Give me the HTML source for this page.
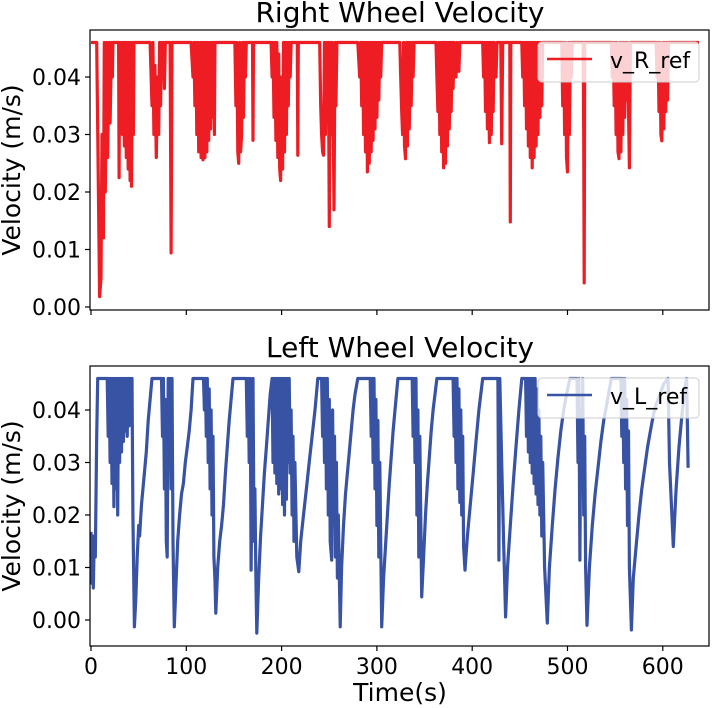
<!DOCTYPE html>
<html><head><meta charset="utf-8"><style>
html,body{margin:0;padding:0;background:#fff}
svg{display:block;font-family:"DejaVu Sans","Liberation Sans",sans-serif}
</style></head><body>
<svg id="chart" width="712" height="708" viewBox="0 0 712 708" xmlns="http://www.w3.org/2000/svg"></svg>
<script>
const xTicks=[0,100,200,300,400,500,600];
const yTicks=["0.00","0.01","0.02","0.03","0.04"];
const rightT=[0,6,7.5,9,10.5,11.5,13,14,15,16.5,17.5,19,20,21.5,22.5,23,29,29.5,30,31,32,33,34,35,36,37,38,39,40,41,42,42.5,43.5,44.5,45,62,64,65,66,67,68.5,70,71,72,73,74,75,76,77,78,83,84,85,105,107,108,109,110,111,112,113,114.5,115.5,116.5,117.5,118.5,119.5,120.5,121.5,122.5,123.5,124.5,125.5,126.5,127.5,128.5,129.5,130,151,152,153,154,155,156,157,158,159,160,161,162,163,169.5,170,170.5,189,190,191,192,193,194,195,196,197,198,199,200,201,202,203,204,205,206,207,208,209,210,216.5,217,217.5,240,241,242,243,244,245,246,247,248,249,250,251,252,253,254,255,256,257,258,280,282,283,284,285,286,287,288,289,290,291,292,293,294,295,296,297,298,299,300,301,302,303,304,305,324,325,326,327,328,329,330,331,332,333,334,335,336,337,338,339,362,363,364,365,366,367,368,369,370,371,372,373,374,375,376,377,378,379,380,381,383,384,386,387,411,412,413,414,415,416,417,418,419,420,421,422,423,425,426,430,431,432,439.5,440,440.5,452,453,454,455,456,457,458,459,460,461,462,463,464,465,466,467,468,469,470,471,472,473,474,494,495,496,497,498,499,500,501,502,503,504,505,516.5,517,517.5,518,546,547,548,549,550,551,552,553,554,555,556,557,558,559,560,561,562,563,565,566,593,594,595,596,597,598,599,600,601,602,603,604,605,606,638];
const rightV=[.046,.046,.025,.0018,.005,.03,.012,.046,.02,.046,.026,.046,.032,.046,.04,.046,.046,.0225,.046,.034,.046,.03,.046,.028,.046,.026,.046,.024,.046,.022,.046,.021,.046,.03,.046,.046,.035,.046,.03,.042,.026,.04,.03,.046,.035,.046,.04,.046,.038,.046,.046,.0094,.046,.046,.04,.046,.035,.046,.03,.046,.027,.046,.026,.046,.0256,.046,.026,.046,.027,.046,.029,.046,.031,.046,.033,.046,.03,.046,.046,.035,.046,.027,.025,.046,.027,.03,.046,.033,.046,.04,.046,.046,.029,.046,.046,.04,.046,.033,.046,.029,.046,.026,.044,.024,.022,.04,.024,.046,.027,.046,.03,.046,.035,.046,.04,.046,.046,.0264,.046,.046,.035,.03,.027,.0264,.046,.03,.046,.032,.046,.014,.046,.03,.046,.035,.0169,.046,.035,.046,.046,.04,.046,.035,.046,.03,.046,.027,.046,.0235,.046,.025,.046,.027,.046,.029,.046,.031,.046,.033,.046,.036,.046,.04,.046,.046,.04,.034,.03,.046,.028,.0258,.046,.028,.046,.031,.046,.035,.046,.04,.046,.046,.04,.034,.046,.03,.046,.027,.046,.0242,.046,.025,.046,.028,.046,.031,.046,.034,.046,.038,.046,.04,.046,.041,.046,.046,.04,.046,.034,.046,.031,.046,.0286,.046,.03,.046,.034,.046,.04,.046,.046,.0284,.046,.046,.0148,.046,.046,.04,.046,.035,.046,.031,.046,.028,.046,.026,.046,.0242,.046,.026,.046,.028,.046,.03,.046,.033,.046,.035,.046,.046,.035,.046,.03,.046,.026,.0235,.046,.03,.046,.04,.046,.046,.03,.0042,.046,.046,.04,.046,.035,.046,.03,.046,.027,.0258,.046,.027,.046,.03,.046,.033,.046,.036,.046,.0242,.046,.046,.04,.046,.034,.046,.03,.0289,.046,.031,.046,.034,.046,.036,.046,.046];
const leftT=[0,1,1.5,2.4,3.5,4.5,6,7,17,18,19,20,21,22,23,24,25,26,27,28,29,30,31,32,33,34,35,36,37,38,39,40,41,42,43,44,45.5,47,48.5,50,51,53,56,58,60,62,64,74,75,76,77,78,79,80,81,82,83,84,85,86,87.4,89,91,93,95,97,99,101,103,105,107,118,119,120,121,122,123,124,125,126,127,128,129,130,131,133,135,137,139,141,143,145,147,149,163,164,165,166,167,168,169,170,171,172,173,174,176,178,180,182,184,186,188,190,191,192,193,194,195,196,197,198,199,200,201,202,203,204,205,206,207,208,209,210,211,212,213,214,216,218,220,223,226,229,232,235,238,242,243,244,245,246,247,248,249,250,251,252.6,253.5,254.5,255.5,256.5,257.5,258.5,259.5,261.5,263,265,267,269,271,273,275,277,280,293,294,295,296,297,298,299,300,301,302,303,305,307,309,311,313,315,317,319,322,337,338,339,340,341,342,343,344,345,347,349,351,353,355,357,359,361,363,380,381,382,383,384,385,386,387,388,389,390,391,392.4,395,398,401,404,407,411,427,428,429,431,433,435,437,440,443,446,449,452,456,457,458,459,460,461,462,463,464,465,466,467,468,469,470,471,472,473,474,476,478.8,481,484,487,490,493,496,499,502.6,510,511,512,513,514,515,516,517,518,519,520.5,523,526,529,532,535,538,541,543,546,556,557,558,559,560,561,562,563,564,565,567,569,572,575,578,581,584,587,590,593,597,601,605.5,607,611,614,617,620,623,625,626,626.5];
const leftV=[.0168,.007,.016,.0061,.016,.012,.035,.046,.046,.035,.046,.03,.046,.026,.046,.0216,.046,.025,.046,.02,.046,.03,.046,.032,.046,.034,.046,.036,.046,.035,.046,.037,.046,.04,.046,.02,-.0013,.004,.012,.018,.016,.022,.028,.032,.038,.042,.046,.046,.035,.046,.025,.042,.015,.012,.046,.03,.046,.025,.046,.015,-.0013,.006,.015,.02,.024,.026,.03,.033,.036,.04,.046,.046,.04,.046,.035,.046,.03,.044,.025,.04,.02,.035,.012,.008,.0013,.01,.015,.018,.022,.028,.033,.038,.042,.046,.046,.035,.046,.03,.046,.0095,.03,.046,.015,.025,.008,-.0025,.008,.016,.022,.028,.033,.038,.043,.046,.03,.046,.028,.046,.026,.046,.024,.046,.025,.046,.022,.046,.02,.046,.023,.046,.03,.046,.028,.04,.02,.035,.015,.03,.012,.0092,.015,.02,.025,.03,.035,.04,.046,.046,.035,.046,.03,.046,.025,.046,.02,.042,.015,.0114,.04,.018,.035,.012,.03,.008,.02,-.0013,.01,.018,.024,.028,.032,.036,.04,.043,.046,.046,.035,.046,.03,.046,.025,.042,.018,.038,.012,.03,-.0013,.008,.014,.02,.026,.031,.036,.04,.046,.046,.035,.046,.03,.046,.02,.04,.012,.035,.0044,.012,.02,.026,.031,.036,.04,.043,.046,.046,.035,.046,.03,.046,.025,.044,.0224,.04,.02,.035,.014,.0095,.016,.022,.028,.034,.04,.046,.046,.0114,.046,.03,.015,.0006,.01,.018,.026,.033,.04,.046,.046,.035,.046,.032,.046,.03,.046,.028,.046,.026,.046,.024,.044,.022,.04,.02,.035,.016,.03,.01,-.0006,.01,.018,.025,.031,.036,.04,.043,.046,.046,.03,.046,.0114,.04,.025,.046,.02,.035,.01,-.001,.01,.018,.024,.029,.034,.038,.041,.043,.046,.046,.035,.046,.03,.046,.025,.042,.018,.036,.01,-.0019,.008,.014,.02,.025,.029,.033,.036,.039,.041,.043,.045,.046,.03,.014,.025,.033,.039,.044,.046,.035,.029];

const svg=document.getElementById('chart');
const NS='http://www.w3.org/2000/svg';
function mk(tag,attrs,parent){const e=document.createElementNS(NS,tag);for(const k in attrs)e.setAttribute(k,attrs[k]);(parent||svg).appendChild(e);return e;}
const X0=90,X1=709;
const xs=t=>91+t*0.953;
function panel(cfg){
  const g=mk('g',{});
  
  
  const ys=v=>cfg.zeroY-v*cfg.pxPerUnit;
  const title=mk('text',{x:400,y:cfg.titleY,'font-size':28,'text-anchor':'middle',fill:'#000'},g);
  title.textContent=cfg.title;
  
  
  const pts=cfg.t.map((t,i)=>xs(t).toFixed(1)+','+ys(cfg.v[i]).toFixed(1)).join(' ');
  const cp=mk('clipPath',{id:cfg.name+'-clip'},g);
  mk('rect',{x:X0,y:cfg.top,width:X1-X0,height:cfg.bottom-cfg.top},cp);
  const line=mk('polyline',{points:pts,fill:'none',stroke:cfg.color,'stroke-width':3.2,'stroke-linejoin':'round','clip-path':'url(#'+cfg.name+'-clip)'},g);
  
  
  const fr=mk('rect',{x:X0,y:cfg.top,width:X1-X0,height:cfg.bottom-cfg.top,fill:'none',stroke:'#000','stroke-width':1.2},g);
  
  
  yTicks.forEach(s=>{
    const y=ys(parseFloat(s));
    mk('line',{x1:X0-5,x2:X0,y1:y,y2:y,stroke:'#000','stroke-width':1.2},g);
    const tl=mk('text',{x:X0-9,y:y+8,'font-size':22,'text-anchor':'end',fill:'#000'},g);
    tl.textContent=s;
    
    
  });
  xTicks.forEach(t=>{
    const x=xs(t);
    mk('line',{x1:x,x2:x,y1:cfg.bottom,y2:cfg.bottom+5,stroke:'#000','stroke-width':1.2},g);
    if(cfg.xLabels){
      const tl=mk('text',{x:x,y:cfg.bottom+28,'font-size':22,'text-anchor':'middle',fill:'#000'},g);
      tl.textContent=String(t);
      
      
    }
  });
  const cy=(cfg.top+cfg.bottom)/2;
  const yl=mk('text',{x:0,y:0,'font-size':25,'text-anchor':'middle',fill:'#000',transform:'translate(20,'+cy+') rotate(-90)'},g);
  yl.textContent='Velocity (m/s)';
  
  
  const lg=mk('g',{},g);
  
  
  mk('rect',{x:538,y:cfg.top+12,width:161,height:40,rx:4,fill:'rgba(255,255,255,0.8)',stroke:'#cccccc','stroke-width':1},lg);
  mk('line',{x1:547,x2:592,y1:cfg.top+29,y2:cfg.top+29,stroke:cfg.color,'stroke-width':2.5},lg);
  const lt=mk('text',{x:610,y:cfg.top+38,'font-size':22,fill:'#000'},lg);
  lt.textContent=cfg.series;
}
panel({name:'right-wheel-panel',title:'Right Wheel Velocity',series:'v_R_ref',t:rightT,v:rightV,color:'#ee1d23',top:30,bottom:310,zeroY:307,pxPerUnit:5750,titleY:22,xLabels:false});
panel({name:'left-wheel-panel',title:'Left Wheel Velocity',series:'v_L_ref',t:leftT,v:leftV,color:'#3953a4',top:366,bottom:646,zeroY:620,pxPerUnit:5250,titleY:357,xLabels:true});
const xt=mk('text',{x:400,y:701,'font-size':25,'text-anchor':'middle',fill:'#000'});
xt.textContent='Time(s)';


</script>
</body></html>
